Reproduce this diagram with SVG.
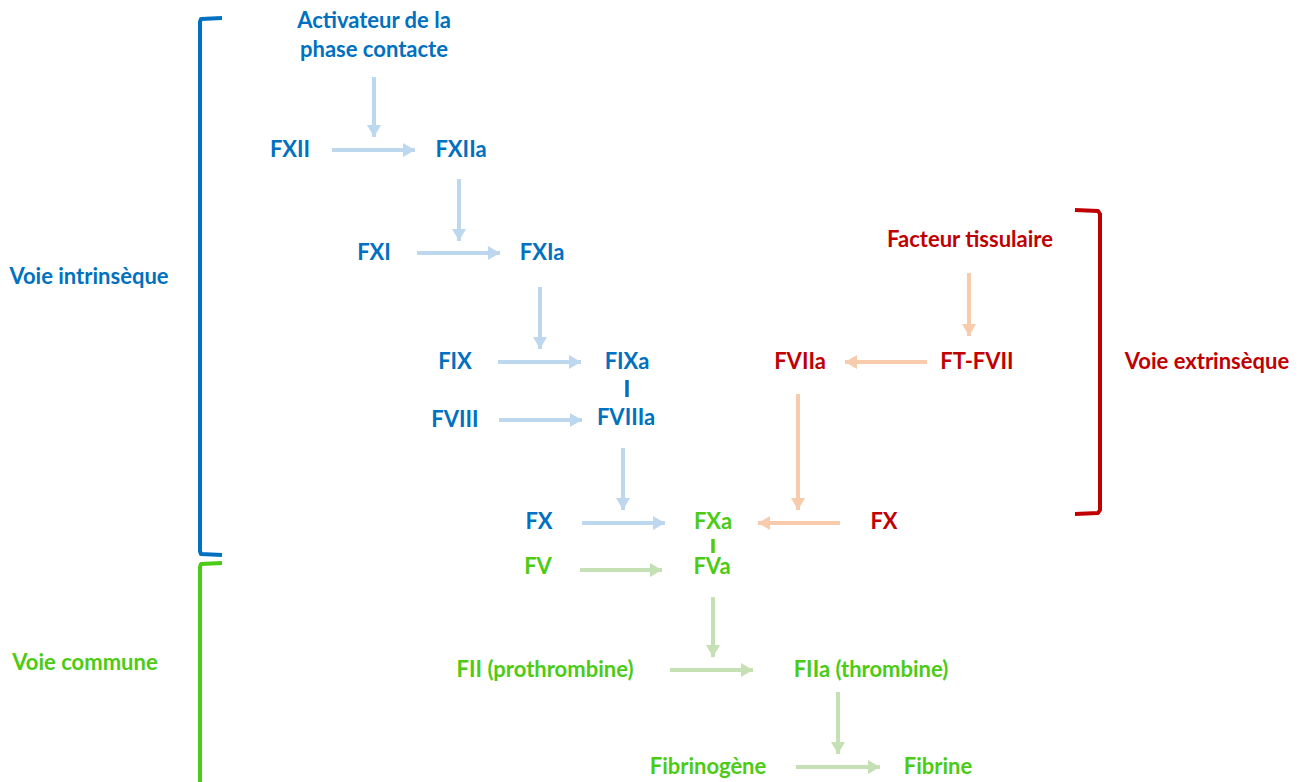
<svg xmlns="http://www.w3.org/2000/svg" width="1301" height="782" viewBox="0 0 1301 782">
<style>
text{font-family:Lato,"Open Sans","Liberation Sans",sans-serif;font-weight:bold;font-size:22px;text-anchor:middle}
.b{fill:#0070C0}.r{fill:#C00000}.g{fill:#4CCB14}
.ab{stroke:#BDD7EE;stroke-width:4;fill:none}
.ao{stroke:#F8CBAD;stroke-width:4;fill:none}
.ag{stroke:#C5E0B4;stroke-width:4;fill:none}
.br{fill:none;stroke-width:4;stroke-linejoin:round}
</style>
<defs>
<marker id="mb" markerUnits="userSpaceOnUse" markerWidth="14" markerHeight="14" refX="12" refY="7" orient="auto"><polygon points="0,0 12,7 0,14" fill="#BDD7EE"/></marker>
<marker id="mo" markerUnits="userSpaceOnUse" markerWidth="14" markerHeight="14" refX="12" refY="7" orient="auto"><polygon points="0,0 12,7 0,14" fill="#F8CBAD"/></marker>
<marker id="mg" markerUnits="userSpaceOnUse" markerWidth="14" markerHeight="14" refX="12" refY="7" orient="auto"><polygon points="0,0 12,7 0,14" fill="#C5E0B4"/></marker>
</defs>
<g id="brackets">
<path class="br" stroke="#0070C0" d="M222,18 L201,19 L200,22 L200,551 L201,554 L222,555"/>
<path class="br" stroke="#4CCB14" d="M222,563 L201,564 L200,567 L200,790"/>
<path class="br" stroke="#C00000" d="M1075,210 L1098,211 L1100,214 L1100,510 L1098,513 L1075,514"/>
</g>
<g id="labels">
<text class="b" x="89" y="284">Voie intrinsèque</text>
<text class="r" x="1207" y="369">Voie extrinsèque</text>
<text class="g" x="85" y="670">Voie commune</text>
</g>
<g id="connectors">
<line class="ab" x1="374" y1="77" x2="374" y2="137" marker-end="url(#mb)"/>
<line class="ab" x1="332" y1="150" x2="415" y2="150" marker-end="url(#mb)"/>
<line class="ab" x1="459" y1="179" x2="459" y2="241" marker-end="url(#mb)"/>
<line class="ab" x1="417" y1="253" x2="500" y2="253" marker-end="url(#mb)"/>
<line class="ab" x1="540" y1="287" x2="540" y2="349" marker-end="url(#mb)"/>
<line class="ab" x1="498" y1="362" x2="581" y2="362" marker-end="url(#mb)"/>
<line class="ab" x1="499" y1="420" x2="582" y2="420" marker-end="url(#mb)"/>
<line class="ab" x1="623" y1="448" x2="623" y2="510" marker-end="url(#mb)"/>
<line class="ab" x1="582" y1="523" x2="665" y2="523" marker-end="url(#mb)"/>
<line x1="627" y1="380" x2="627" y2="397" stroke="#0070C0" stroke-width="3.5"/>
<line class="ao" x1="969" y1="273" x2="969" y2="336" marker-end="url(#mo)"/>
<line class="ao" x1="927" y1="362" x2="845" y2="362" marker-end="url(#mo)"/>
<line class="ao" x1="798" y1="394" x2="798" y2="510" marker-end="url(#mo)"/>
<line class="ao" x1="840" y1="523" x2="758" y2="523" marker-end="url(#mo)"/>
<line x1="713" y1="539" x2="713" y2="553" stroke="#4CCB14" stroke-width="3.5"/>
<line class="ag" x1="580" y1="570" x2="662" y2="570" marker-end="url(#mg)"/>
<line class="ag" x1="713" y1="597" x2="713" y2="657" marker-end="url(#mg)"/>
<line class="ag" x1="670" y1="670" x2="753" y2="670" marker-end="url(#mg)"/>
<line class="ag" x1="838" y1="692" x2="838" y2="754" marker-end="url(#mg)"/>
<line class="ag" x1="796" y1="767" x2="880" y2="767" marker-end="url(#mg)"/>
</g>
<g id="n-activateur"><text class="b" x="374" y="28">Activateur de la</text><text class="b" x="374" y="57">phase contacte</text></g>
<g id="n-fxii"><text class="b" x="290" y="157">FXII</text></g>
<g id="n-fxiia"><text class="b" x="461" y="157">FXIIa</text></g>
<g id="n-fxi"><text class="b" x="374" y="260">FXI</text></g>
<g id="n-fxia"><text class="b" x="542" y="260">FXIa</text></g>
<g id="n-fix"><text class="b" x="455" y="369">FIX</text></g>
<g id="n-fixa"><text class="b" x="627" y="369">FIXa</text></g>
<g id="n-fviii"><text class="b" x="455" y="427">FVIII</text></g>
<g id="n-fviiia"><text class="b" x="626" y="425">FVIIIa</text></g>
<g id="n-fx-blue"><text class="b" x="539" y="529">FX</text></g>
<g id="n-fxa"><text class="g" x="713" y="529">FXa</text></g>
<g id="n-fx-red"><text class="r" x="884" y="529">FX</text></g>
<g id="n-ft"><text class="r" x="970" y="247">Facteur tissulaire</text></g>
<g id="n-ftfvii"><text class="r" x="977" y="369">FT-FVII</text></g>
<g id="n-fviia"><text class="r" x="800" y="369">FVIIa</text></g>
<g id="n-fv"><text class="g" x="538" y="574">FV</text></g>
<g id="n-fva"><text class="g" x="712" y="574">FVa</text></g>
<g id="n-fii"><text class="g" x="545" y="677">FII (prothrombine)</text></g>
<g id="n-fiia"><text class="g" x="871" y="677">FIIa (thrombine)</text></g>
<g id="n-fibrinogene"><text class="g" x="708" y="774">Fibrinogène</text></g>
<g id="n-fibrine"><text class="g" x="938" y="774">Fibrine</text></g>
</svg>
